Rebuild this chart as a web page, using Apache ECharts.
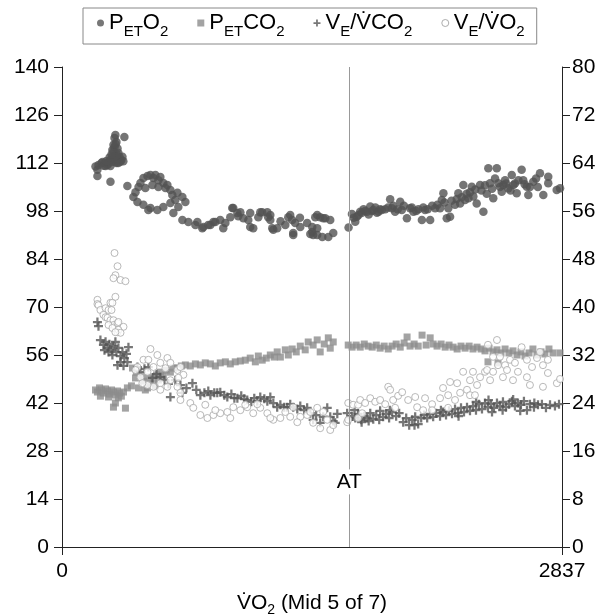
<!DOCTYPE html>
<html>
<head>
<meta charset="utf-8">
<script src="https://cdn.jsdelivr.net/npm/echarts@6/dist/echarts.min.js"></script>
<style>html,body{margin:0;padding:0;background:#fff}#c{width:601px;height:615px}</style>
</head>
<body>
<div id="c"></div>
<script>
// ---- data (x = VO2 mL/min; PETO2/PETCO2 in mmHg on left axis; ventilatory equivalents on right axis)
const xTicks = [0, 2837];
const leftTicks = [0, 14, 28, 42, 56, 70, 84, 98, 112, 126, 140];
const rightTicks = [0, 8, 16, 24, 32, 40, 48, 56, 64, 72, 80];
const AT_VO2 = 1630;
const AT_LABEL_Y = 19;

const petO2 = [
[190,111],[201,110],[201,108.2],[207,111.4],[224,112],[230,112.3],[241,112],[247,111.1],[258,111.4],[264,112.3],[275,112.9],[281,112.3],[292,113.5],[298,112.9],[303,112.3],[309,112],[320,112],[326,113.8],[337,112.9],[343,113.8],[320,114.9],[309,114.6],[292,115.5],[298,116.7],[292,117.3],[309,118.1],[298,119.3],[303,120.2],[354,119.6],[286,115.8],[275,111.1],[264,112],[275,106.5],[371,105.3],
[236,111.2],[252,112.6],[270,113.6],[286,113.9],[314,113.2],[331,112.4],[348,112.5],[303,114],[281,114.5],[315,116.2],[304,117.5],
[502,108.5],[462,107.6],[434,105],[417,103.5],[405,102.1],[428,100.6],[462,99.8],[502,98.9],[541,98.3],[575,99.2],[615,100.3],[643,101.2],[683,102.1],[700,100.6],[660,99.2],[632,97.4],[683,95.4],[717,94.8],[757,93.9],[796,93],[830,93.9],[859,94.8],[519,107.6],[547,107],[575,106.2],[587,104.7],[615,104.1],[547,105],[513,105.6],[473,104.7],[626,102.7],[485,108.2],[530,108.5],[558,107.9],[445,106.2],[598,105.6],[655,103.3],[490,98.3],
[768,94.8],[802,93.3],[842,93.9],[870,94.8],[898,95.4],[927,94.5],[915,93],[955,96.2],[966,98.9],[972,98.9],[995,97.4],[1000,96.5],[1012,97.6],[1029,95.9],[1057,95.4],[1068,93.3],[1068,97.4],[1085,93],[1114,96.2],[1125,97.6],[1136,97.6],[1165,97.6],[1170,96.2],[1182,95.4],[1182,96.8],[1193,93],[1199,92.5],[1221,93],[1240,95],[1267,93.9],[1284,96.2],[1295,96.8],[1306,95.4],[1312,91.6],[1312,91],[1323,94.5],[1350,96],[1352,93.3],[1391,94.5],[1409,91.3],[1420,93.3],[1420,91.9],[1425,91],[1437,96.2],[1448,93],[1448,91],[1448,96.8],[1465,96.2],[1477,90.4],[1482,95.9],[1494,95.9],[1511,90.4],[1522,95.4],[1539,91.6],
[1626,93.2],[1645,97.1],[1655,96],[1664,94.9],[1673,96.3],[1683,96.8],[1692,97.8],[1702,97.5],[1711,98.5],[1720,98],[1730,97.8],[1740,97],[1749,99.3],[1760,98],[1767,98.3],[1778,99],[1787,97.5],[1796,97.8],[1805,98.5],[1815,98.3],[1834,98.5],[1850,99],[1862,101.4],[1872,98.8],[1880,99.5],[1890,97.8],[1905,98.5],[1919,100.7],[1928,98.3],[1940,99.5],[1957,95.9],[1975,98.8],[1985,99],[1994,97.8],[2010,98],[2022,98.5],[2042,95.4],[2050,99],[2060,98.3],[2075,98.5],[2089,95.4],[2100,99.5],[2117,98.8],[2130,99.8],[2145,98.8],[2155,101.2],[2164,103.2],[2170,100.5],[2183,95.9],[2192,98.8],[2202,96.3],[2210,101],[2230,99.8],[2240,101.5],[2249,103.2],[2259,100.2],[2268,102],[2277,105.6],[2287,101.2],[2296,103],[2306,101.7],[2315,103.5],[2325,105.1],[2334,102.2],[2345,104.3],[2353,100.2],[2372,105.6],[2380,104],[2391,97.8],[2400,105.5],[2410,103],[2419,110.5],[2429,106.1],[2440,104.5],[2447,101.7],[2457,107.5],[2467,110.5],[2476,106.1],[2485,105],[2495,103.6],[2504,105.6],[2514,107],[2520,106],[2532,104.6],[2545,104],[2552,108.5],[2561,105.6],[2570,106],[2580,103.2],[2590,107],[2608,110],[2617,107],[2625,105.8],[2637,105.1],[2646,102.7],[2655,105],[2674,106.5],[2690,107.5],[2700,105],[2712,109],[2731,102.7],[2759,108],[2759,106.1],[2807,104.1],[2826,104.6]
];

const petCO2 = [
[190,45.8],[201,45.2],[213,46.4],[224,45.8],[235,44.9],[247,46.1],[258,45.5],[269,44.6],[281,45.8],[292,45.2],[303,44.3],[315,45.5],[326,44.9],[337,44],[349,45.2],[218,44],[264,43.75],[320,43.5],[292,40.8],[360,40.5],[303,42],[371,46.4],[394,47],[434,46.4],[473,45.8],
[400,52.2],[422,51],[445,49.9],[462,48.4],[485,49.6],[502,47.8],[519,49],[536,50.2],[558,51],[575,49.9],[592,51.6],[615,51],[632,52.2],[485,46.4],[530,47],[547,48.7],[417,49.3],
[655,52.2],[677,52.8],[700,53.1],[728,52.8],[757,53.4],[785,53.1],[813,53.7],[842,53.4],[870,52.8],[898,53.7],[927,54],[955,53.4],[983,54],[1012,54.25],[1040,54.5],[1068,55.1],[1097,54],[1114,55.7],[1136,54.5],[1159,55.1],[1182,56],[1204,55.4],[1221,56.9],[1239,55.4],[1267,57.5],[1284,56],[1306,57.75],[1329,56.9],[1352,58.6],[1380,57.5],[1397,59.8],[1425,58.9],[1448,60.4],[1465,56.9],[1488,59.2],[1511,61],[1522,58],[1539,59.8],
[1624,58.9],[1646,58.3],[1669,58.9],[1692,58.3],[1715,59.2],[1737,58.6],[1760,58.3],[1783,58.9],[1805,58],[1828,58.6],[1851,57.75],[1873,58.6],[1896,59.2],[1919,58.3],[1941,59.5],[1958,61.25],[1975,58.6],[1998,59.2],[2021,58.6],[2043,61.8],[2066,58.9],[2089,61],[2106,59.2],[2128,58.6],[2151,59.2],[2174,58.3],[2196,58.9],[2219,58.3],[2242,57.75],[2264,58.6],[2287,58],[2310,58.6],[2332,57.75],[2355,58.3],[2378,57.75],[2400,57.2],[2417,54],[2423,58],[2446,56.9],[2468,57.5],[2474,53.7],[2491,56.6],[2514,57.75],[2536,56.6],[2559,57.2],[2582,56],[2604,56.9],[2627,55.7],[2650,56.6],[2672,57.75],[2695,56],[2718,56.9],[2740,56.3],[2763,57.75],[2786,56.6],[2826,56.6]
];

const veVCO2 = [
[201,37.5],[207,36.8],[218,34.5],[235,33.7],[247,34.2],[258,33.2],[269,33.8],[281,32.8],[292,33.5],[303,34.2],[309,32.5],[320,33.2],[332,31.8],[343,32.5],[354,31.5],[366,32.2],[371,30.8],[332,30.8],[286,32],[264,32.5],[241,32.8],[315,30.3],[349,30.2],[377,33.3],
[428,30],[445,29.2],[468,29.7],[490,30],[513,28.2],[536,28.8],[558,28.3],[581,27.8],[615,25],[604,27.2],[643,27.8],[672,27],[683,25.7],[706,26.5],
[740,27.3],[762,26.2],[785,25.3],[808,25.7],[830,26],[842,25.3],[864,25.7],[881,25.7],[898,25.8],[921,25.3],[938,25],[961,25.5],[978,24.8],[995,24.8],[1017,25.2],[1034,24.7],[1051,24.5],[1074,24.2],[1091,24.8],[1108,24.3],[1125,25],[1148,24.7],[1165,24.3],[1182,25],[1199,24],[1221,23.3],[1239,23.7],[1261,23.3],[1278,23.3],[1295,23.8],[1312,23.3],[1335,23],[1352,23.5],[1374,22.8],[1391,23.2],[1409,22.3],[1425,21.2],[1442,22],[1465,20.7],[1482,21.7],[1505,23.2],[1522,21.7],[1539,21],[1550,20.7],[1562,22.2],
[1618,22.3],[1630,21.2],[1646,21.8],[1664,21.5],[1680,22.2],[1698,21.2],[1715,21.8],[1732,21.5],[1749,22.3],[1766,21.3],[1783,22],[1805,22.7],[1822,21.7],[1839,22.2],[1856,21.5],[1873,22.5],[1896,21.8],[1913,22.3],[1936,20.8],[1953,21.5],[1970,20.3],[1987,21.2],[2004,21.7],[2021,20.5],[2038,21.5],[2055,22],[2072,21.5],[2089,22.2],[2106,21.7],[2123,22.3],[2145,21.8],[2162,22.5],[2179,22],[2196,22.7],[2213,22.2],[2230,23],[2247,22.3],[2264,23.2],[2281,22.5],[2298,23.3],[2315,22.7],[2332,23.5],[2349,22.8],[2366,23.8],[2383,23],[2400,24],[2417,23.3],[2434,23.8],[2451,23.2],[2468,24],[2485,23.5],[2502,24.2],[2519,23.3],[2536,23.8],[2553,24.3],[2570,23.5],[2587,24],[2604,23.7],[2621,24.3],[2638,22.8],[2655,23.8],[2678,23.3],[2701,23.7],[2723,23.8],[2746,23.2],[2769,23.7],[2797,23.5],[2820,23.8],
[1660,22.8],[1700,20.8],[1740,21],[1800,21.2],[1860,22.8],[2000,20.3],[2150,22.8],[2250,21.8],[2350,24.2],[2420,24.5],[2440,22.5],[2500,22.8],[2560,24.6],[2600,22.7],[2680,24]
];

const veVO2 = [
[298,49],[315,46.8],[303,45.3],[292,44.8],[332,44.5],[360,44.3],
[201,41.2],[201,40.5],[207,40.3],[218,39.5],[247,39.8],[264,39.5],[275,40.7],[286,40.7],[303,41.7],[235,38.7],[247,38.3],[258,38.2],[275,37.8],[292,37.8],[292,37],[315,37.3],[320,37.5],[349,36.7],[264,37],[286,36.5],[315,35.8],[320,36.2],[332,35.7],[303,35.8],[281,39.5],
[502,33],[462,31.2],[490,31.2],[541,32],[598,31.5],[428,30],[445,28.3],[417,29.5],[485,29.2],[519,30],[558,30.7],[587,29.8],[615,30.7],[655,29.5],[672,30],[689,28.7],[660,28.2],[615,27.8],[558,27.3],[519,26.7],[485,27],[456,27.3],[558,26.2],[598,26.7],[655,26.7],[672,25.7],[672,24.5],[728,24],[745,23.2],[785,22],[825,21.5],[859,22],[898,22.3],[938,22.5],[972,23.3],[1012,22.8],[1051,23.3],[1085,22.3],[1125,23.2],[1165,22.3],[1199,21.2],[1239,21.5],[1295,21.7],[1312,23.3],[1352,21.7],[1391,22],[1425,20.7],[1448,23.2],[1482,22.5],[1505,21.2],[1522,19.5],[1539,20.3],
[813,23.7],[870,22.8],[955,21.5],[1040,23.7],[1108,23.8],[1182,21.5],[1267,22.5],[1335,20.8],[1409,22.5],[1465,19.8],
[1618,20.8],[1624,21.2],[1624,24],[1652,23.7],[1680,23.7],[1692,24.5],[1720,24],[1749,24.8],[1777,24.2],[1805,24.5],[1834,23.8],[1851,26.7],[1862,26.2],[1879,24.5],[1907,25.2],[1930,25.8],[1964,24.5],[2004,25],[2015,23.3],[2049,22.8],[2060,24.8],[2100,23.8],[2145,24.8],[2162,26.5],[2191,25.3],[2202,27.5],[2242,27.3],[2259,25.7],[2276,29.2],[2298,26.2],[2315,27.8],[2332,29.2],[2355,27],[2372,28.3],[2400,29.2],[2412,29.5],[2417,33.7],[2429,27.8],[2446,29.2],[2446,31.7],[2468,34.5],[2474,30.3],[2485,31.7],[2502,28.3],[2514,30.3],[2525,29.5],[2542,31.2],[2559,27.8],[2570,30.7],[2587,29.2],[2608,33.3],[2638,31.2],[2638,28.3],[2655,27],[2667,30],[2695,31.5],[2712,32.5],[2729,30.3],[2729,26.7],[2757,31.2],[2757,29],[2808,27.3],[2826,28],
[1680,21.5],[1703,22.3],[2100,22.8],[2191,23.2],[1890,23.2],[2315,25.3],[2230,24.5],[2343,25.3]
];

// ---- chart
const FONT = "'Liberation Sans', Arial, Helvetica, sans-serif";
const PLUS = 'path://M3,0H5V3H8V5H5V8H3V5H0V3H3Z';
const legendLabels = {
  'PETO2': '{n|P}{s|ET}{n|O}{s|2}',
  'PETCO2': '{n|P}{s|ET}{n|CO}{s|2}',
  'VE/VCO2': '{n|V}{s|E}{n|/V\u0307CO}{s|2}',
  'VE/VO2': '{n|V}{s|E}{n|/V\u0307O}{s|2}'
};
const richLegend = {
  n: {fontSize: 22, fontFamily: FONT, color: '#000', lineHeight: 32},
  s: {fontSize: 15, fontFamily: FONT, color: '#000', lineHeight: 15, verticalAlign: 'bottom'}
};
const richTitle = {
  n: {fontSize: 21, fontFamily: FONT, color: '#000', lineHeight: 28},
  s: {fontSize: 14, fontFamily: FONT, color: '#000', lineHeight: 14, verticalAlign: 'bottom'}
};

const chart = echarts.init(document.getElementById('c'), null, {renderer: 'canvas'});
const axisLine = {show: true, lineStyle: {color: '#222', width: 1}};
const axisTick = {show: true, length: 8, lineStyle: {color: '#222', width: 1}};

chart.setOption({
  animation: false,
  backgroundColor: '#fff',
  textStyle: {fontFamily: FONT},
  grid: {left: 62, right: 39, top: 67, bottom: 68, containLabel: false, outerBoundsMode: 'none'},
  legend: {
    left: 83, top: 8,
    padding: [4, 12, 5, 14],
    borderColor: '#888', borderWidth: 1,
    itemGap: 29, itemWidth: 7, itemHeight: 7,
    selectedMode: false,
    formatter: name => legendLabels[name],
    textStyle: {rich: richLegend, fontSize: 22, fontFamily: FONT, color: '#000'},
    data: [
      {name: 'PETO2', icon: 'circle', itemStyle: {color: '#555'}},
      {name: 'PETCO2', icon: 'rect', itemStyle: {color: '#8c8c8c'}},
      {name: 'VE/VCO2', icon: PLUS, itemStyle: {color: '#555'}},
      {name: 'VE/VO2', icon: 'circle', itemStyle: {color: '#fff', borderColor: '#999', borderWidth: 1}}
    ]
  },
  xAxis: {
    type: 'value', min: xTicks[0], max: xTicks[1], interval: xTicks[1] - xTicks[0],
    axisLine, axisTick, splitLine: {show: false},
    axisLabel: {color: '#000', fontSize: 21, fontFamily: FONT, margin: 14, showMinLabel: true, showMaxLabel: true,
      formatter: v => String(v)},
    name: '{n|V\u0307O}{s|2}{n| (Mid 5 of 7)}',
    nameLocation: 'middle', nameGap: 42,
    nameTextStyle: {rich: richTitle, fontSize: 21, color: '#000'}
  },
  yAxis: [
    {type: 'value', position: 'left', min: leftTicks[0], max: leftTicks[leftTicks.length - 1], interval: leftTicks[1] - leftTicks[0],
     axisLine, axisTick, splitLine: {show: false},
     axisLabel: {color: '#000', fontSize: 21, fontFamily: FONT, margin: 13}},
    {type: 'value', position: 'right', min: rightTicks[0], max: rightTicks[rightTicks.length - 1], interval: rightTicks[1] - rightTicks[0],
     axisLine, axisTick, splitLine: {show: false},
     axisLabel: {color: '#000', fontSize: 21, fontFamily: FONT, margin: 10}}
  ],
  series: [
    {name: 'PETO2', type: 'scatter', yAxisIndex: 0, data: petO2, symbol: 'circle', symbolSize: 8.5,
     itemStyle: {color: '#525252'}, emphasis: {disabled: true},
     markLine: {silent: true, symbol: ['none', 'none'], label: {show: false},
       lineStyle: {color: '#999', width: 1, type: 'solid'}, data: [{xAxis: AT_VO2}]},
     markPoint: {silent: true, symbol: 'rect', symbolSize: 1, itemStyle: {color: 'rgba(0,0,0,0)'},
       label: {show: true, position: 'inside', formatter: 'AT', color: '#000', fontSize: 21, fontFamily: FONT, backgroundColor: '#fff', padding: [2, 1]},
       data: [{coord: [AT_VO2, AT_LABEL_Y]}]}},
    {name: 'PETCO2', type: 'scatter', yAxisIndex: 0, data: petCO2, symbol: 'rect', symbolSize: 7,
     itemStyle: {color: '#8c8c8c'}, emphasis: {disabled: true}},
    {name: 'VE/VCO2', type: 'scatter', yAxisIndex: 1, data: veVCO2, symbol: PLUS, symbolSize: 9,
     itemStyle: {color: '#555'}, emphasis: {disabled: true}},
    {name: 'VE/VO2', type: 'scatter', yAxisIndex: 1, data: veVO2, symbol: 'circle', symbolSize: 7,
     itemStyle: {color: '#fff', borderColor: '#a8a8a8', borderWidth: 1}, emphasis: {disabled: true}}
  ]
});
</script>
</body>
</html>
